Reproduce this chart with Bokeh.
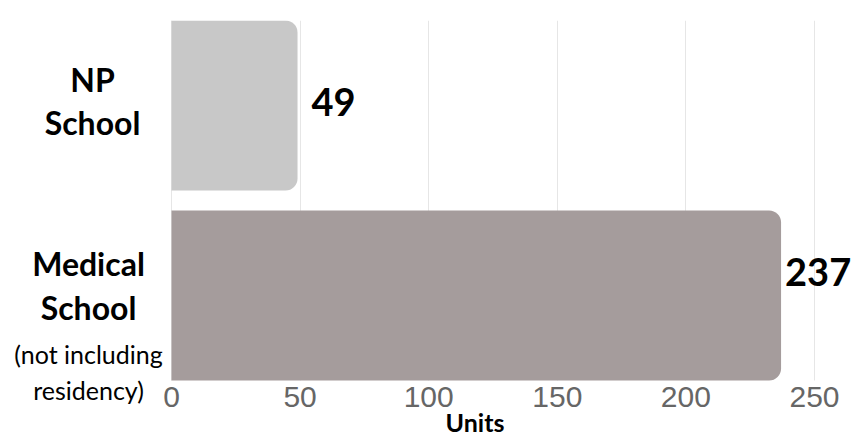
from bokeh.plotting import figure
from bokeh.models import Range1d, FixedTicker, ColumnDataSource, Label, LinearAxis, BoxAnnotation
from bokeh.embed import file_html
from bokeh.resources import INLINE

# ---- data ----
categories = ["NP School", "Medical School"]
values = [49, 237]
notes = ["", "(not including residency)"]
bar_colors = ["#c8c8c8", "#a59c9c"]
x_ticks = [0, 50, 100, 150, 200, 250]
x_title = "Units"

# ---- layout constants (canvas px) ----
W, H = 852, 437
TOP = 20                     # frame top
PX0, PX250 = 171, 814        # where x=0 and x=last tick sit
BAR_TOP, BAR_BOT = 20, 380   # outer edges of the bar block
BAR_FRAC = 170 / 190
n = len(categories)
ypos = [n - 1 - i for i in range(n)]          # first category on top

x_lo, x_hi = x_ticks[0], x_ticks[-1]
ppx = (PX250 - PX0) / (x_hi - x_lo)
ppy = (BAR_BOT - BAR_TOP) / ((n - 1) + BAR_FRAC)
y_end = (n - 1) + BAR_FRAC / 2
y_start = y_end - (H - TOP) / ppy
x_start = x_lo - PX0 / ppx
x_end = x_hi + (W - PX250) / ppx

def ydat(cy):   # canvas y (from top) -> data y
    return y_end - (cy - TOP) / ppy

def xdat(cx):   # canvas x -> data x
    return x_lo + (cx - PX0) / ppx

p = figure(width=W, height=H, output_backend="svg", toolbar_location=None,
           x_range=Range1d(x_start, x_end), y_range=Range1d(y_start, y_end),
           x_axis_location=None, y_axis_location=None,
           min_border_left=0, min_border_right=0,
           min_border_top=TOP, min_border_bottom=0)
p.outline_line_color = None
p.background_fill_color = "white"
p.border_fill_color = "white"

# grid
p.xgrid.ticker = FixedTicker(ticks=x_ticks)
p.xgrid.grid_line_color = "#e6e6e6"
p.xgrid.grid_line_width = 1
p.ygrid.grid_line_color = None
# keep grid lines inside the bar block only
p.add_layout(BoxAnnotation(top=ydat(BAR_BOT), fill_color="white", fill_alpha=1,
                           line_color=None, level="underlay"))

src = ColumnDataSource(dict(y=ypos, value=values, color=bar_colors, cat=categories))
p.hbar(y="y", left=0, right="value", height=BAR_FRAC, source=src,
       fill_color="color", line_color=None,
       border_radius=(0, 12, 12, 0))

# x axis at the bottom edge of the bars
xa = LinearAxis(ticker=FixedTicker(ticks=x_ticks), fixed_location=ydat(BAR_BOT),
                axis_label=x_title, bounds=(xdat(474.5) * 2 - x_hi, x_hi))
xa.axis_line_color = None
xa.major_tick_line_color = None
xa.major_tick_out = 0
xa.major_tick_in = 0
xa.minor_tick_line_color = None
xa.minor_tick_out = 0
xa.major_label_text_font = "Liberation Sans"
xa.major_label_text_font_size = "30px"
xa.major_label_text_color = "#666666"
xa.major_label_standoff = 6
xa.axis_label_text_font = "Lato"
xa.axis_label_text_font_style = "bold"
xa.axis_label_text_font_size = "25px"
xa.axis_label_text_color = "#000000"
xa.axis_label_standoff = -3
p.add_layout(xa, "below")

BOLD_FONT = "Lato"

# category labels
label_cx = [92, 88]
line_layouts = [
    ([79, 121.5], []),
    ([263, 306.5], [353, 389]),
]
for i, cat in enumerate(categories):
    bold_lines = cat.split(" ")
    note_lines = []
    if notes[i]:
        parts = notes[i].split(" ")
        note_lines = [" ".join(parts[:2]), " ".join(parts[2:])]
    bys, nys = line_layouts[i]
    for txt, cy in zip(bold_lines, bys):
        p.add_layout(Label(x=xdat(label_cx[i]), y=ydat(cy), text=txt,
                           text_align="center", text_baseline="middle",
                           text_font=BOLD_FONT, text_font_style="bold",
                           text_font_size="32px", text_color="#000000"))
    for txt, cy in zip(note_lines, nys):
        p.add_layout(Label(x=xdat(label_cx[i]), y=ydat(cy), text=txt,
                           text_align="center", text_baseline="middle",
                           text_font=BOLD_FONT, text_font_size="25px",
                           text_color="#000000"))

# value labels
val_offsets = [14, 4]
val_cy = [101, 271.5]
for i, v in enumerate(values):
    p.add_layout(Label(x=v, y=ydat(val_cy[i]), x_offset=val_offsets[i], text=str(v),
                       text_align="left", text_baseline="middle",
                       text_font=BOLD_FONT, text_font_style="bold",
                       text_font_size="38px", text_color="#000000"))

open("out.html", "w").write(file_html(p, INLINE))
